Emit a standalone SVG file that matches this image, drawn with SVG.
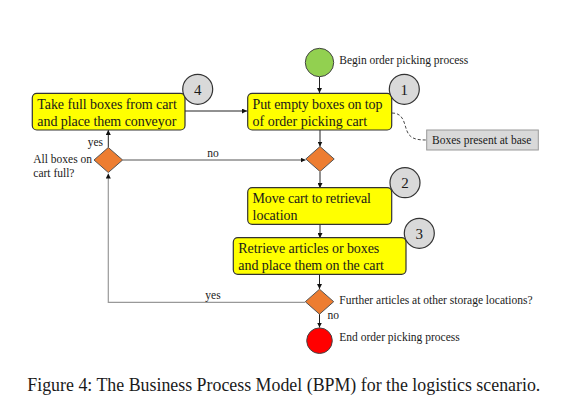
<svg xmlns="http://www.w3.org/2000/svg" width="564" height="408" viewBox="0 0 564 408">
<style>
text{font-family:"Liberation Serif","Times New Roman",serif;fill:#1a1a1a}
.bt{font-size:14px}
.lb{font-size:11.5px}
.num{font-size:15px;text-anchor:middle}
.task{fill:#ffff00;stroke:#333;stroke-width:1.2}
.step{fill:#d9d9d9;stroke:#333;stroke-width:1.2}
.gw{fill:#ed7d31;stroke:#555;stroke-width:1}
.c{fill:none;stroke:#222;stroke-width:1}
.cg{fill:none;stroke:#555;stroke-width:1}
.cl{fill:none;stroke:#999;stroke-width:1.2}
</style>
<defs>
<marker id="ah" viewBox="0 0 6 6" refX="6" refY="3" markerWidth="5" markerHeight="5" orient="auto" markerUnits="userSpaceOnUse">
<path d="M0,0 L6,3 L0,6 z" fill="#111"/>
</marker>
</defs>
<rect width="564" height="408" fill="#fff"/>
<g id="connectors">
<line class="c" x1="319.5" y1="77" x2="319.5" y2="93" marker-end="url(#ah)"/>
<line class="c" x1="185" y1="111" x2="247" y2="111" marker-end="url(#ah)"/>
<line class="c" x1="320" y1="130" x2="320" y2="146.5" marker-end="url(#ah)"/>
<line class="cg" x1="122.5" y1="160" x2="305.5" y2="160" marker-end="url(#ah)"/>
<line class="c" x1="108.3" y1="147.5" x2="108.3" y2="130" marker-end="url(#ah)"/>
<line class="c" x1="320" y1="172" x2="320" y2="188" marker-end="url(#ah)"/>
<line class="c" x1="320" y1="224" x2="320" y2="238" marker-end="url(#ah)"/>
<line class="c" x1="319.5" y1="274" x2="319.5" y2="289" marker-end="url(#ah)"/>
<polyline class="cl" points="305,302.3 108.3,302.3 108.3,173.5" marker-end="url(#ah)"/>
<line class="c" x1="319.5" y1="314" x2="319.5" y2="327.5" marker-end="url(#ah)"/>
<path d="M392,113 C404,113 404,124 407,131 C410,139 417,140 426.5,140" fill="none" stroke="#333" stroke-width="0.9" stroke-dasharray="3,2"/>
<text class="lb" x="213" y="157" text-anchor="middle">no</text>
<text class="lb" x="103" y="146" text-anchor="end">yes</text>
<text class="lb" x="213" y="298.5" text-anchor="middle">yes</text>
<text class="lb" x="327.5" y="318.5">no</text>
</g>
<g id="start">
<circle cx="319.5" cy="62.5" r="14.2" fill="#92d050" stroke="#444" stroke-width="1"/>
<text class="lb" x="339.3" y="63.5" textLength="129" lengthAdjust="spacing">Begin order picking process</text>
</g>
<g id="task1">
<rect class="task" x="247.7" y="93.3" width="144" height="36.7" rx="4.5"/>
<text class="bt" x="252.5" y="108.5" textLength="130" lengthAdjust="spacing">Put empty boxes on top</text>
<text class="bt" x="252.5" y="125.5">of order picking cart</text>
<circle class="step" cx="404.3" cy="89.3" r="15"/>
<text class="num" x="404.3" y="94.5">1</text>
</g>
<g id="note">
<rect x="426.7" y="130" width="111.6" height="20" fill="#d9d9d9" stroke="#999" stroke-width="1"/>
<text class="lb" x="432" y="144">Boxes present at base</text>
</g>
<g id="task4">
<rect class="task" x="32.3" y="93.3" width="152.7" height="36.7" rx="4.5"/>
<text class="bt" x="37.3" y="108.5" textLength="139.5" lengthAdjust="spacing">Take full boxes from cart</text>
<text class="bt" x="37.3" y="125.5" textLength="139" lengthAdjust="spacing">and place them conveyor</text>
<circle class="step" cx="197.7" cy="89.3" r="15"/>
<text class="num" x="197.7" y="94.5">4</text>
</g>
<g id="gw-full">
<polygon class="gw" points="108.3,147.5 122.6,160 108.3,172.5 94,160"/>
<text class="lb" x="33.3" y="162.7">All boxes on</text>
<text class="lb" x="33.3" y="176.7">cart full?</text>
</g>
<g id="gw-merge">
<polygon class="gw" points="320,146.5 334.2,159 320,171.5 305.8,159"/>
</g>
<g id="task2">
<rect class="task" x="247.7" y="187.7" width="144" height="36.6" rx="4.5"/>
<text class="bt" x="252.5" y="203.3" textLength="118.5" lengthAdjust="spacing">Move cart to retrieval</text>
<text class="bt" x="252.5" y="220">location</text>
<circle class="step" cx="405" cy="182.7" r="15"/>
<text class="num" x="405" y="188">2</text>
</g>
<g id="task3">
<rect class="task" x="233.3" y="237.7" width="172.7" height="36.6" rx="4.5"/>
<text class="bt" x="238.3" y="253.3" textLength="141" lengthAdjust="spacing">Retrieve articles or boxes</text>
<text class="bt" x="238.3" y="270" textLength="145.7" lengthAdjust="spacing">and place them on the cart</text>
<circle class="step" cx="419.3" cy="233.3" r="15"/>
<text class="num" x="419.3" y="238.5">3</text>
</g>
<g id="gw-further">
<polygon class="gw" points="319.5,289.2 333.7,301.7 319.5,314.2 305.3,301.7"/>
<text class="lb" x="339.3" y="304.3">Further articles at other storage locations?</text>
</g>
<g id="end">
<circle cx="319.5" cy="340.7" r="12.8" fill="#ff0000" stroke="#444" stroke-width="1"/>
<text class="lb" x="339.3" y="340.5">End order picking process</text>
</g>
<text x="27.3" y="391" font-size="18" textLength="513" lengthAdjust="spacingAndGlyphs">Figure 4: The Business Process Model (BPM) for the logistics scenario.</text>
</svg>
